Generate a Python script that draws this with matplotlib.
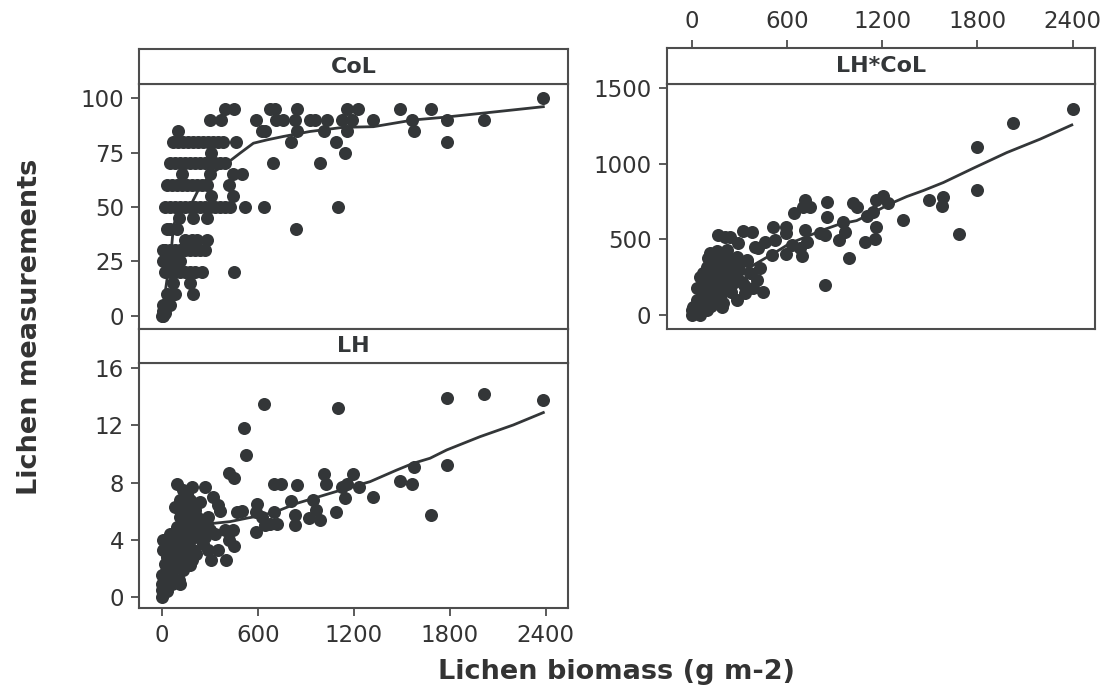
import numpy as np
import matplotlib.pyplot as plt

# ---- data ----
# CoL panel (cover of lichen, %)
col_x = [2385,
         396, 452, 677, 708, 848, 1156, 1229, 1489, 1681,
         302, 369, 587, 712, 756, 833, 927, 958, 1031, 1129, 1187, 1323, 1566, 1785, 2016,
         104, 625, 646, 848, 1014, 1156, 1577,
         73, 104, 135, 167, 198, 229, 260, 292, 323, 354, 385, 464, 808, 1089, 1785,
         308, 1146,
         52, 83, 114, 146, 177, 208, 239, 271, 302, 333, 364, 396, 694, 989,
         129, 302, 448, 500,
         31, 62, 94, 125, 156, 187, 219, 250, 281, 423,
         308, 448,
         21, 52, 83, 114, 146, 177, 208, 239, 271, 302, 333, 364, 396, 427, 521, 641, 1104,
         110, 194, 285,
         31, 52, 94, 837,
         146, 187, 219, 285,
         5, 21, 52, 83, 114, 146, 177, 208, 239, 271,
         10, 42, 73, 114,
         21, 52, 83, 114, 146, 177, 208, 250, 452,
         73, 177,
         31, 62, 83, 194,
         5, 31, 52,
         5, 10, 20, 15, 0]
col_y = [100,
         95, 95, 95, 95, 95, 95, 95, 95, 95,
         90, 90, 90, 90, 90, 90, 90, 90, 90, 90, 90, 90, 90, 90, 90,
         85, 85, 85, 85, 85, 85, 85,
         80, 80, 80, 80, 80, 80, 80, 80, 80, 80, 80, 80, 80, 80, 80,
         75, 75,
         70, 70, 70, 70, 70, 70, 70, 70, 70, 70, 70, 70, 70, 70,
         65, 65, 65, 65,
         60, 60, 60, 60, 60, 60, 60, 60, 60, 60,
         55, 55,
         50, 50, 50, 50, 50, 50, 50, 50, 50, 50, 50, 50, 50, 50, 50, 50, 50,
         45, 45, 45,
         40, 40, 40, 40,
         35, 35, 35, 35,
         30, 30, 30, 30, 30, 30, 30, 30, 30, 30,
         25, 25, 25, 25,
         20, 20, 20, 20, 20, 20, 20, 20, 20,
         15, 15,
         10, 10, 10, 10,
         5, 5, 5,
         2, 0, 1, 4, 0]
col_fit_x = [10, 21, 62, 73, 104, 187, 239, 312, 406, 489, 573, 656, 760,
             927, 1135, 1323, 1573, 1760, 2093, 2385]
col_fit_y = [4.1, 10.3, 31.7, 40.9, 48.6, 51.6, 59.3, 65.4, 70.0, 74.7, 79.3,
             80.8, 82.4, 84.7, 86.6, 86.9, 90.0, 91.2, 93.8, 96.1]

# LH panel (lichen height)
lh_x = [641, 1104, 1785, 2016, 2385, 514, 527, 423, 452, 1785, 1577, 1489, 1566,
        1681, 1323, 1235, 1193, 1156, 1146, 1125, 1089, 1016, 1027, 989, 962, 948,
        923, 848, 833, 833, 808, 702, 744, 704, 719, 677, 594, 589, 589, 625, 646,
        500, 469, 448, 396, 423, 452, 400, 364, 354, 319, 271, 187, 135, 94, 83,
        146, 177, 239, 292, 302, 333, 354, 308, 292, 260, 229, 187, 198, 156, 114,
        94, 114, 219, 229, 167, 10, 10, 21, 0, 0, 10, 0, 31, 52, 73, 114, 135, 94,
        62, 73, 31, 42, 104, 135, 52, 83, 177, 198, 167, 208, 114, 156, 42, 21, 62,
        2, 125, 145, 160, 180, 200, 130, 90, 60, 40, 100, 80, 20, 30, 50, 150, 175,
        215, 240, 270, 120,
        70, 95, 115, 140, 165, 185, 110, 135, 155, 60, 85, 25, 45, 15, 35, 105, 190,
        250, 280, 225]
lh_y = [13.5, 13.2, 13.9, 14.2, 13.8, 11.8, 9.9, 8.7, 8.3, 9.2, 9.1, 8.1, 7.9,
        5.7, 7.0, 7.7, 8.6, 7.9, 6.9, 7.7, 5.95, 8.6, 7.9, 5.4, 6.1, 6.8,
        5.5, 7.8, 5.7, 5.0, 6.7, 7.9, 7.9, 5.95, 5.1, 5.1, 6.5, 5.95, 4.56, 5.6, 5.0,
        6.0, 5.95, 4.67, 4.7, 3.96, 3.54, 2.56, 6.0, 6.4, 7.0, 7.7, 7.7, 7.5, 7.9, 6.3,
        6.65, 6.8, 6.65, 5.6, 4.68, 4.4, 3.26, 2.57, 3.26, 3.7, 4.2, 2.57, 3.26, 3.7, 4.67,
        4.9, 5.6, 5.6, 5.0, 5.4, 4.0, 3.26, 2.3, 1.5, 0.9, 0.2, 0.0, 0.7, 1.4, 1.87, 0.89, 1.87, 2.3,
        2.8, 3.7, 1.87, 2.57, 3.5, 3.0, 4.4, 4.2, 3.96, 4.67, 5.95, 6.05, 6.8, 7.2, 1.4, 0.9, 0.9,
        0.5, 5.0, 6.0, 4.5, 5.2, 6.3, 4.0, 3.0, 2.0, 3.3, 2.5, 1.0, 1.2, 2.8, 3.8, 3.2, 2.2,
        3.0, 4.9, 4.2, 6.2,
        3.4, 4.5, 3.6, 5.4, 4.8, 6.0, 2.8, 2.4, 5.8, 1.6, 3.0, 1.8, 2.2, 0.6, 0.4, 1.2, 4.1,
        5.3, 5.1, 4.6]
lh_fit_x = [0, 21, 52, 114, 219, 323, 427, 531, 635, 739, 844, 948, 1052, 1156,
            1302, 1468, 1573, 1677, 1781, 1989, 2197, 2385]
lh_fit_y = [0.24, 1.87, 3.26, 4.2, 4.91, 5.14, 5.26, 5.5, 5.72, 6.07, 6.54, 6.89,
            7.24, 7.59, 8.06, 8.87, 9.35, 9.7, 10.28, 11.21, 12.03, 12.9]

# LH*CoL panel
prod_x = [2400, 2026, 1795, 1795, 1686, 1581, 1575, 1497, 1329, 1239, 1203, 1161,
          1161, 1155, 1140, 1106, 1094, 1039, 1018, 966, 955, 930, 993, 850, 850,
          840, 840, 808, 714, 745, 703, 714, 724, 644, 693, 682, 630, 594, 594, 594,
          514, 525, 504, 462, 420, 430, 399, 378, 325, 294, 241, 210, 164, 283, 346,
          283, 409, 388, 451, 336, 283, 220, 115, 147, 94, 52, 31, 84, 136, 189, 241,
          199, 136, 178, 157, 115, 73, 10, 21, 0, 52, 0, 31, 84, 168, 105, 315, 367,
          262, 220, 199, 52, 94, 147, 126, 189, 63, 115, 73,
          60, 80, 100, 120, 140, 160, 180, 110, 130, 150, 170, 190, 210, 230, 90, 70,
          40, 20, 110, 150, 170, 200, 220, 240, 260, 130, 100, 160, 80, 120, 180, 200,
          250, 270, 300, 330, 350]
prod_y = [1363, 1268, 1110, 827, 534, 779, 721, 761, 629, 739, 790, 761,
          585, 505, 682, 655, 481, 717, 739, 547, 618, 496, 375, 750, 651,
          529, 199, 540, 761, 717, 717, 563, 485, 673, 390, 441, 463, 585, 540, 404,
          585, 496, 397, 485, 441, 309, 452, 552, 558, 474, 518, 514, 529, 386, 364,
          320, 232, 176, 154, 143, 99, 165, 408, 342, 320, 254, 176, 187, 143, 55, 232,
          276, 276, 364, 232, 99, 77, 55, 11, 0, 0, 33, 99, 121, 165, 232, 221, 276,
          254, 430, 320, 55, 33, 99, 187, 187, 143, 364, 276,
          100, 160, 200, 250, 300, 350, 400, 300, 180, 220, 260, 300, 340, 380, 60, 40,
          20, 30, 120, 140, 190, 230, 290, 320, 210, 350, 380, 420, 230, 60, 120, 80,
          150, 260, 300, 200, 360]
prod_fit_x = [6, 94, 199, 304, 409, 535, 619, 724, 829, 934, 1039, 1144, 1249,
              1354, 1459, 1585, 1774, 1984, 2194, 2394]
prod_fit_y = [11, 143, 232, 276, 342, 419, 474, 518, 563, 602, 624, 677, 735,
              783, 823, 876, 971, 1074, 1163, 1257]

x_ticks = [0, 600, 1200, 1800, 2400]

# ---- layout (pixel boxes) ----
W, H = 1104, 693
dark = '#333638'
edge = '#4d4d4d'

fig = plt.figure(figsize=(W / 100, H / 100), dpi=100)


def box(l, t, r, b):
    return [l / W, 1 - b / H, (r - l) / W, (b - t) / H]


def style(ax):
    for s in ax.spines.values():
        s.set_color(edge)
        s.set_linewidth(1.5)
    ax.tick_params(direction='out', length=6, width=1.3, color=edge,
                   labelsize=16.5, labelcolor='#333333', pad=5)


def strip(ax, label):
    style(ax)
    ax.set_yticks([])
    ax.text(0.5, 0.5, label, transform=ax.transAxes, ha='center', va='center',
            fontsize=16, fontweight='bold', color=dark)


def panel(ax, x, y, fx, fy):
    ax.scatter(x, y, s=88, color=dark, linewidths=0, zorder=3)
    ax.plot(fx, fy, color=dark, lw=2.0, zorder=4)
    ax.set_xlim(-140, 2541)
    style(ax)


ax_col = fig.add_axes(box(139.3, 84.3, 568.3, 329.3))
st_col = fig.add_axes(box(139.3, 49.3, 568.3, 84.3))
ax_lh = fig.add_axes(box(139.3, 363.3, 568.3, 608.3))
st_lh = fig.add_axes(box(139.3, 329.3, 568.3, 363.3))
ax_pr = fig.add_axes(box(666.7, 84.3, 1095, 329.3))
st_pr = fig.add_axes(box(666.7, 48.3, 1095, 84.3))

panel(ax_col, col_x, col_y, col_fit_x, col_fit_y)
ax_col.set_ylim(-6.3, 106.4)
ax_col.set_yticks([0, 25, 50, 75, 100])
ax_col.set_xticks([])

panel(ax_lh, lh_x, lh_y, lh_fit_x, lh_fit_y)
ax_lh.set_ylim(-0.81, 16.35)
ax_lh.set_yticks([0, 4, 8, 12, 16])
ax_lh.set_xticks(x_ticks)

panel(ax_pr, prod_x, prod_y, prod_fit_x, prod_fit_y)
ax_pr.set_xlim(-157, 2540)
ax_pr.set_ylim(-95, 1526)
ax_pr.set_yticks([0, 500, 1000, 1500])
ax_pr.set_xticks([])

strip(st_col, 'CoL')
st_col.set_xticks([])
strip(st_lh, 'LH')
st_lh.set_xticks([])
strip(st_pr, 'LH*CoL')
st_pr.set_xlim(-157, 2540)
st_pr.set_xticks(x_ticks)
st_pr.xaxis.tick_top()

fig.text(30 / W, 1 - 327 / H, 'Lichen measurements', rotation=90, ha='center',
         va='center', fontsize=19.5, fontweight='bold', color='#333333')
fig.text(616 / W, 1 - 672 / H, 'Lichen biomass (g m-2)', ha='center',
         va='center', fontsize=19.5, fontweight='bold', color='#333333')

fig.savefig('out.png', dpi=100)
